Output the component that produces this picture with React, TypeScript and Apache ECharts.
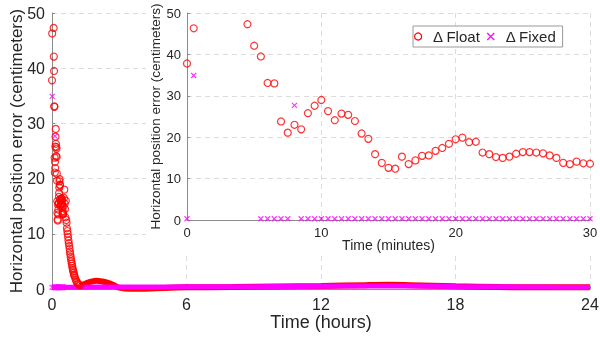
import React, { useEffect, useRef } from "react";
import * as echarts from "echarts";

// Inset (first 30 minutes), time in minutes
const insetFloatMinutes = [0, 0.5, 4.5, 5, 5.5, 6, 6.5, 7, 7.5, 8, 8.5, 9, 9.5, 10, 10.5, 11, 11.5, 12, 12.5, 13, 13.5, 14, 14.5, 15, 15.5, 16, 16.5, 17, 17.5, 18, 18.5, 19, 19.5, 20, 20.5, 21, 21.5, 22, 22.5, 23, 23.5, 24, 24.5, 25, 25.5, 26, 26.5, 27, 27.5, 28, 28.5, 29, 29.5, 30];
const insetFloatValues = [37.8, 46.3, 47.3, 42.1, 39.5, 33.1, 33.0, 23.8, 21.1, 23.0, 21.9, 25.8, 27.6, 29.0, 26.3, 24.1, 25.7, 25.4, 23.9, 20.9, 19.6, 15.9, 13.8, 12.6, 12.4, 15.3, 13.5, 14.4, 15.5, 15.6, 16.7, 17.4, 18.4, 19.5, 19.9, 18.8, 18.9, 16.3, 15.9, 15.2, 15.0, 15.3, 16.0, 16.4, 16.4, 16.3, 16.1, 15.6, 15.0, 13.8, 13.5, 14.1, 13.7, 13.6];

const insetFixedMinutes = [0, 0.5, 5.5, 6, 6.5, 7, 7.5, 8, 8.5, 9, 9.5, 10, 10.5, 11, 11.5, 12, 12.5, 13, 13.5, 14, 14.5, 15, 15.5, 16, 16.5, 17, 17.5, 18, 18.5, 19, 19.5, 20, 20.5, 21, 21.5, 22, 22.5, 23, 23.5, 24, 24.5, 25, 25.5, 26, 26.5, 27, 27.5, 28, 28.5, 29, 29.5, 30];
const insetFixedValues = [0.3, 34.9, 0.3, 0.3, 0.3, 0.3, 0.3, 27.7, 0.3, 0.3, 0.3, 0.3, 0.3, 0.3, 0.3, 0.3, 0.3, 0.3, 0.3, 0.3, 0.3, 0.3, 0.3, 0.3, 0.3, 0.3, 0.3, 0.3, 0.3, 0.3, 0.3, 0.3, 0.3, 0.3, 0.3, 0.3, 0.3, 0.3, 0.3, 0.3, 0.3, 0.3, 0.3, 0.3, 0.3, 0.3, 0.3, 0.3, 0.3, 0.3, 0.3, 0.3];

// Main chart: float convergence after the first 30 minutes (minutes)
const floatConvMinutes = [31, 32, 33, 34, 35, 36, 37, 38, 39, 40, 41, 42, 43, 44, 45, 46, 47, 48, 49, 50, 51, 52, 53, 54, 55, 56, 57, 58, 59, 60, 62, 64, 66, 68, 70, 72, 75];
const floatConvValues = [15.0, 16.5, 18.0, 15.5, 14.5, 13.0, 16.0, 12.5, 12.0, 11.0, 10.5, 10.0, 9.4, 8.8, 8.3, 7.8, 7.3, 6.8, 6.3, 5.8, 5.4, 5.0, 4.6, 4.2, 3.8, 3.5, 3.2, 2.9, 2.6, 2.4, 2.0, 1.6, 1.3, 1.1, 0.9, 0.8, 0.7];

// Main chart: remaining day (hours)
const floatLateHours = [1.25, 1.5, 1.75, 2.0, 2.25, 2.5, 2.75, 3.0, 3.5, 4, 5, 6, 8, 10, 12, 14, 15, 16, 18, 20, 22, 24];
const floatLateValues = [0.6, 1.0, 1.35, 1.5, 1.35, 1.1, 0.7, 0.25, 0.05, 0.05, 0.2, 0.3, 0.35, 0.45, 0.55, 0.7, 0.75, 0.7, 0.5, 0.35, 0.3, 0.3];
const fixedLateHours = [0.5, 2, 4, 6, 8, 10, 12, 14, 16, 18, 20, 22, 24];
const fixedLateValues = [0.3, 0.35, 0.35, 0.4, 0.4, 0.45, 0.5, 0.55, 0.55, 0.45, 0.4, 0.35, 0.3];

const hourTicks = [0, 6, 12, 18, 24];
const minuteTicks = [0, 10, 20, 30];

const RED = "#ff0000";
const MAG = "#ff00ff";
const TXT = "#262626";
const AX = "#8c8c8c";
const GRIDC = "#dcdcdc";
const FONT = "'Liberation Sans', Arial, sans-serif";
const XSYM = "path://M0,0L10,10M10,0L0,10";

export default function App() {
  const ref = useRef<HTMLDivElement>(null);
  useEffect(() => {
    const chart = echarts.init(ref.current!, undefined, { renderer: "svg" });
    const toH = (m: number) => m / 60;
    const mainFloatScatter = [
      ...insetFloatMinutes.map((m, i) => [toH(m), insetFloatValues[i]]),
      ...floatConvMinutes.map((m, i) => [toH(m), floatConvValues[i]]),
    ];
    const mainFixedScatter = insetFixedMinutes.map((m, i) => [toH(m), insetFixedValues[i]]);

    const axisCommon = {
      nameMoveOverlap: false,
      axisLine: { show: true, lineStyle: { color: AX, width: 1 } },
      axisTick: { show: true, inside: true, length: 3, lineStyle: { color: AX } },
      splitLine: { show: true, lineStyle: { color: GRIDC, type: [5, 4] as any, width: 1 } },
    };

    chart.setOption({
      animation: false,
      textStyle: { fontFamily: FONT },
      grid: [
        { left: 52, top: 13, width: 538, height: 276, outerBoundsMode: "none", containLabel: false },
        { left: 187, top: 13, width: 403, height: 207, outerBoundsMode: "none", containLabel: false },
      ],
      xAxis: [
        {
          ...axisCommon,
          gridIndex: 0, type: "value", min: 0, max: 24, interval: 6,
          name: "Time (hours)", nameLocation: "middle", nameGap: 24,
          nameTextStyle: { color: TXT, fontFamily: FONT, fontSize: 18 },
          axisLabel: { color: TXT, fontSize: 16, margin: 7, formatter: (v: number) => (hourTicks.includes(v) ? String(v) : "") },
        },
        {
          ...axisCommon,
          gridIndex: 1, type: "value", min: 0, max: 30, interval: 10, z: 4,
          name: "Time (minutes)", nameLocation: "middle", nameGap: 18,
          nameTextStyle: { color: TXT, fontFamily: FONT, fontSize: 14 },
          axisLabel: { color: TXT, fontSize: 13, margin: 6, formatter: (v: number) => (minuteTicks.includes(v) ? String(v) : "") },
        },
      ],
      yAxis: [
        {
          ...axisCommon,
          gridIndex: 0, type: "value", min: 0, max: 50, interval: 10,
          name: "Horizontal position error (centimeters)", nameLocation: "middle", nameGap: 27,
          nameTextStyle: { color: TXT, fontFamily: FONT, fontSize: 17 },
          axisLabel: { color: TXT, fontSize: 16, margin: 7 },
        },
        {
          ...axisCommon,
          gridIndex: 1, type: "value", min: 0, max: 50, interval: 10, z: 4,
          name: "Horizontal position error (centimeters)", nameLocation: "middle", nameGap: 25,
          nameTextStyle: { color: TXT, fontFamily: FONT, fontSize: 13.5 },
          axisLabel: { color: TXT, fontSize: 13, margin: 6 },
        },
      ],
      graphic: [
        { type: "rect", z: 3, shape: { x: 146, y: 0, width: 454, height: 252 }, style: { fill: "#fff" }, silent: true },
      ],
      legend: {
        z: 8,
        left: 413, top: 26,
        padding: [3, 6, 3, 1],
        itemGap: 6, itemWidth: 20, itemHeight: 7,
        borderColor: "#999", borderWidth: 1, backgroundColor: "#fff",
        textStyle: { color: TXT, fontSize: 15, fontFamily: FONT },
        data: [
          { name: "Δ Float", icon: "circle", itemStyle: { color: "transparent", borderColor: RED, borderWidth: 1.2 } },
          { name: "Δ Fixed", icon: XSYM, itemStyle: { color: "transparent", borderColor: MAG, borderWidth: 1.2 } },
        ],
      },
      series: [
        {
          name: "Δ Float", type: "line", xAxisIndex: 0, yAxisIndex: 0, z: 2,
          data: floatLateHours.map((h, i) => [h, floatLateValues[i]]),
          smooth: 0.3, showSymbol: false, lineStyle: { color: RED, width: 6 }, itemStyle: { color: RED },
        },
        {
          name: "Δ Float", type: "scatter", xAxisIndex: 0, yAxisIndex: 0, z: 2,
          data: mainFloatScatter, symbol: "circle", symbolSize: 7,
          itemStyle: { color: "transparent", borderColor: RED, borderWidth: 1.2 },
        },
        {
          name: "Δ Fixed", type: "line", xAxisIndex: 0, yAxisIndex: 0, z: 2,
          data: fixedLateHours.map((h, i) => [h, fixedLateValues[i]]),
          smooth: 0.3, showSymbol: false, lineStyle: { color: MAG, width: 5 }, itemStyle: { color: MAG },
        },
        {
          name: "Δ Fixed", type: "scatter", xAxisIndex: 0, yAxisIndex: 0, z: 2,
          data: mainFixedScatter, symbol: XSYM, symbolSize: 5,
          itemStyle: { color: "transparent", borderColor: MAG, borderWidth: 1.2 },
        },
        {
          name: "Δ Float", type: "scatter", xAxisIndex: 1, yAxisIndex: 1, z: 5,
          data: insetFloatMinutes.map((m, i) => [m, insetFloatValues[i]]), symbol: "circle", symbolSize: 7,
          itemStyle: { color: "transparent", borderColor: RED, borderWidth: 1.2 },
        },
        {
          name: "Δ Fixed", type: "scatter", xAxisIndex: 1, yAxisIndex: 1, z: 5,
          data: insetFixedMinutes.map((m, i) => [m, insetFixedValues[i]]), symbol: XSYM, symbolSize: 5,
          itemStyle: { color: "transparent", borderColor: MAG, borderWidth: 1.2 },
        },
      ],
    });
    return () => chart.dispose();
  }, []);
  return <div ref={ref} style={{ width: 600, height: 338, position: "fixed", left: 0, top: 0 }} />;
}
